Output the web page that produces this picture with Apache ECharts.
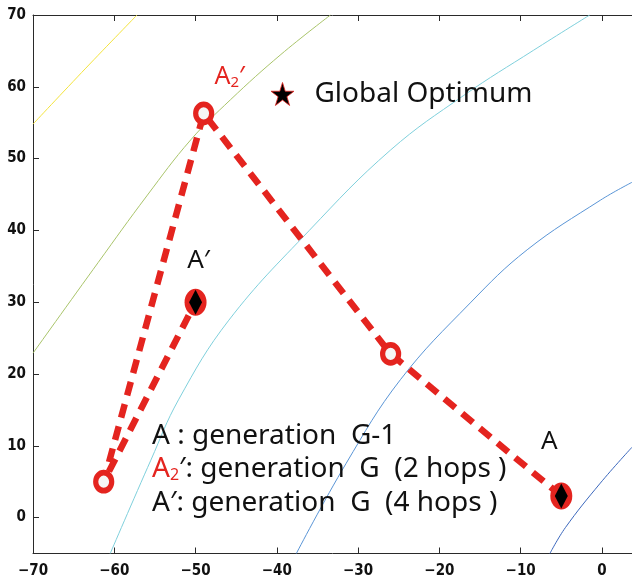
<!DOCTYPE html>
<html>
<head>
<meta charset="utf-8">
<script src="https://cdn.jsdelivr.net/npm/echarts@6/dist/echarts.min.js"></script>
<style>
  html, body { margin: 0; padding: 0; background: #fff; }
  #chart { width: 632px; height: 580px; }
</style>
</head>
<body>
<div id="chart"></div>
<script>
// Axis ticks
const xTicks = [-70, -60, -50, -40, -30, -20, -10, 0];
const yTicks = [0, 10, 20, 30, 40, 50, 60, 70];

// Fitness contour lines, [x, y] pairs
const contourYellow = [[-70, 54.8], [-63.5, 62.6], [-57.2, 70]];
const contourGreen = [[-70, 22.9], [-62, 35.5], [-56, 44.8], [-50.6, 52.6], [-45.7, 58.2], [-39.5, 64.5], [-33.4, 70]];
const contourCyan = [[-60.5, -5], [-55.5, 8], [-52.1, 16.4], [-45.9, 27.5], [-36, 40], [-26, 51.2], [-17, 58.8], [-8.4, 65.1], [-1.5, 70]];
const contourBlue = [[-37.6, -5], [-31.5, 7.5], [-24.8, 19.2], [-16.2, 29.9], [-9.2, 37.3], [-0.2, 44.2], [3.7, 46.7]];
const contourNavy = [[-6.4, -5], [-4.5, -1.4], [-0.2, 4.8], [3.7, 9.8]];

// Hop route: A -> waypoint -> A2' (2 hops) -> waypoint -> A' (4 hops)
const routeX = [-5, -26, -49, -61.3, -50];
const routeY = [3, 22.8, 56.3, 5, 30];
const waypointIdx = [1, 2, 3];   // hollow markers
const solutionIdx = [0, 4];      // A and A'

// Global optimum
const optimumX = -39.3;
const optimumY = 59;

const RED = '#e4241f';
const TXT_FONT = '"Noto Sans", "Open Sans", sans-serif';
const AXIS_FONT = '"Liberation Sans Narrow", "DejaVu Sans Condensed", sans-serif';
const STAR = 'path://M50,0 L61.2,34.5 L97.6,34.5 L68.2,55.9 L79.4,90.5 L50,69.1 L20.6,90.5 L31.8,55.9 L2.4,34.5 L38.8,34.5 Z';

const minusFmt = v => (v < 0 ? '\u2212' + Math.abs(v) : String(v));

const route = routeX.map((x, i) => [x, routeY[i]]);

const contour = (data, color) => ({
  type: 'line', data, smooth: 0.4, showSymbol: false, silent: true, z: 1,
  lineStyle: { color, width: 1 }
});

const labelFor = {
  2: { text: '{r|A}{s|2}{r|\u2032}', offset: [26, -36] },
  0: { text: '{k|A}', offset: [-12, -54] },
  4: { text: '{k|A\u2032}', offset: [3, -42] }
};
const richLbl = {
  r: { color: RED, fontSize: 25, fontFamily: TXT_FONT },
  s: { color: RED, fontSize: 15, fontFamily: TXT_FONT, verticalAlign: 'bottom', padding: [10, 0, 0, 0] },
  k: { color: '#111', fontSize: 26, fontFamily: TXT_FONT }
};
const withLabel = (i, base) => {
  const item = Object.assign({ value: route[i] }, base);
  if (labelFor[i]) {
    item.label = {
      show: true, position: 'inside', offset: labelFor[i].offset,
      formatter: labelFor[i].text, rich: richLbl
    };
  }
  return item;
};

const chart = echarts.init(document.getElementById('chart'), null, { renderer: 'canvas' });

const axisLineStyle = { color: '#2a2a2a', width: 1 };
const tickStyle = { color: '#2a2a2a' };

chart.setOption({
  animation: false,
  backgroundColor: '#fff',
  grid: { left: 33, right: 0, top: 15, bottom: 26.5 },
  xAxis: [{
    type: 'value', min: -70, max: 3.7, position: 'bottom',
    axisLine: { show: true, onZero: false, lineStyle: axisLineStyle },
    axisTick: { show: true, inside: true, length: 6, customValues: xTicks, lineStyle: tickStyle },
    axisLabel: { customValues: xTicks, formatter: minusFmt, margin: 10, color: '#111',
      fontFamily: AXIS_FONT, fontWeight: 'bold', fontSize: 15 },
    splitLine: { show: false }
  }, {
    type: 'value', min: -70, max: 3.7, position: 'top',
    axisLine: { show: true, onZero: false, lineStyle: axisLineStyle },
    axisTick: { show: true, inside: true, length: 6, customValues: xTicks, lineStyle: tickStyle },
    axisLabel: { show: false },
    splitLine: { show: false }
  }],
  yAxis: {
    type: 'value', min: -5, max: 70,
    axisLine: { show: true, onZero: false, lineStyle: axisLineStyle },
    axisTick: { show: true, inside: true, length: 6, customValues: yTicks, lineStyle: tickStyle },
    axisLabel: { customValues: yTicks, formatter: minusFmt, margin: 7, color: '#111',
      fontFamily: AXIS_FONT, fontWeight: 'bold', fontSize: 15 },
    splitLine: { show: false }
  },
  series: [
    contour(contourYellow, '#f3e33c'),
    contour(contourGreen, '#a9c46a'),
    contour(contourCyan, '#7fd0dc'),
    contour(contourBlue, '#5a95d6'),
    contour(contourNavy, '#3c68bd'),
    {
      type: 'line', data: route, showSymbol: false, silent: true, z: 3,
      lineStyle: { color: RED, width: 6.5, type: [14, 9], cap: 'butt' }
    },
    {
      type: 'scatter', z: 5, symbol: 'circle', symbolSize: [16, 18],
      itemStyle: { color: '#f6f6f6', borderColor: RED, borderWidth: 5.5, opacity: 1 },
      data: waypointIdx.map(i => withLabel(i, {}))
    },
    {
      type: 'scatter', z: 5, symbol: 'circle', symbolSize: [22, 27],
      itemStyle: { color: RED, opacity: 1 },
      data: solutionIdx.map(i => withLabel(i, {}))
    },
    {
      type: 'scatter', z: 6, symbol: 'diamond', symbolSize: [13, 25], silent: true,
      itemStyle: { color: '#000', opacity: 1 },
      data: solutionIdx.map(i => route[i])
    },
    {
      type: 'scatter', z: 6, symbol: STAR, symbolSize: 23,
      itemStyle: { color: '#000', borderColor: RED, borderWidth: 0.8, opacity: 1 },
      label: { show: true, position: 'right', distance: 20, formatter: 'Global Optimum',
        color: '#111', fontSize: 28, fontFamily: TXT_FONT },
      data: [[optimumX, optimumY]]
    }
  ],
  graphic: [
    { type: 'text', left: 152, top: 422, z: 10,
      style: { text: 'A : generation  G-1', fill: '#111', font: '28px ' + TXT_FONT } },
    { type: 'text', left: 152, top: 455, z: 10,
      style: {
        text: '{r|A}{s|2}{k|\u2032: generation  G  (2 hops )}',
        rich: {
          r: { fill: RED, fontSize: 28, fontFamily: TXT_FONT },
          s: { fill: RED, fontSize: 16, fontFamily: TXT_FONT, verticalAlign: 'bottom', padding: [12, 0, 0, 0] },
          k: { fill: '#111', fontSize: 28, fontFamily: TXT_FONT }
        }
      } },
    { type: 'text', left: 152, top: 489, z: 10,
      style: { text: 'A\u2032: generation  G  (4 hops )', fill: '#111', font: '28px ' + TXT_FONT } }
  ]
});
</script>
</body>
</html>
